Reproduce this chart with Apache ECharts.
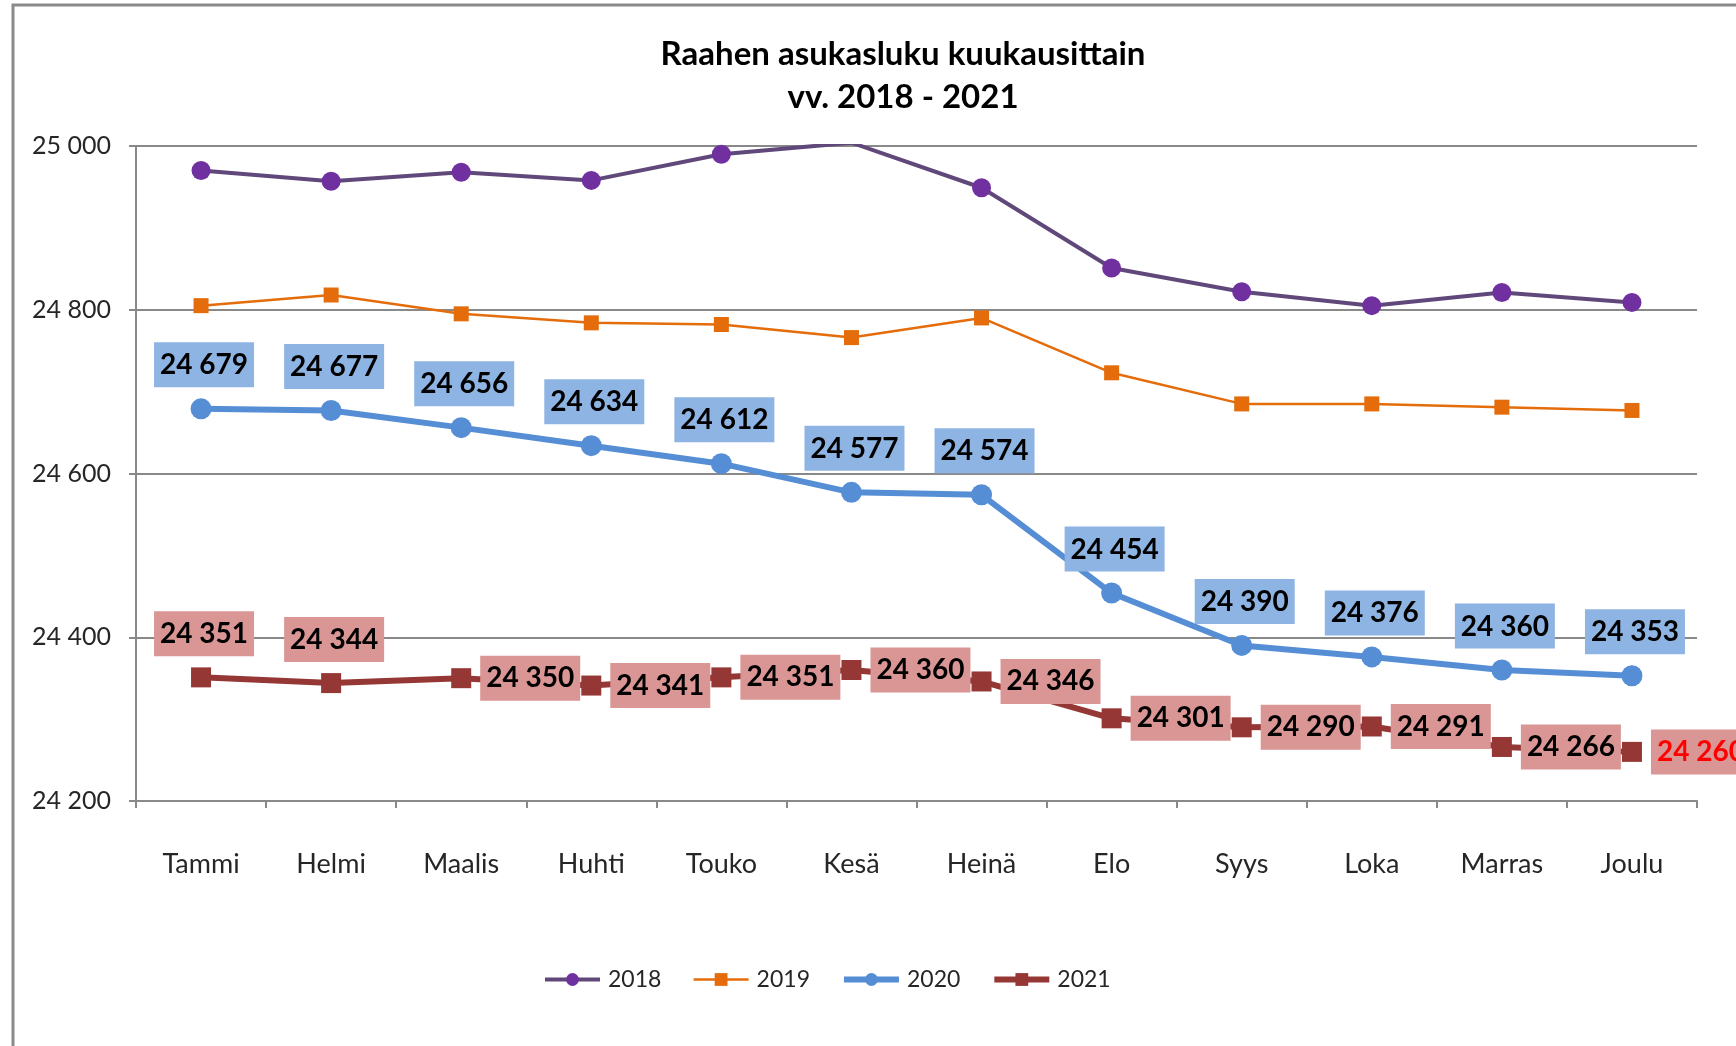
<!DOCTYPE html>
<html><head><meta charset="utf-8">
<script src="https://cdn.jsdelivr.net/npm/echarts@6/dist/echarts.min.js"></script>
<style>html,body{margin:0;padding:0;background:#fff}#c{width:1736px;height:1046px}</style>
</head><body><div id="c"></div>
<script>
const categories = ['Tammi','Helmi','Maalis','Huhti','Touko','Kesä','Heinä','Elo','Syys','Loka','Marras','Joulu'];
const v2018 = [24970,24957,24968,24958,24990,25004,24949,24851,24822,24805,24821,24809];
const v2019 = [24805,24818,24795,24784,24782,24766,24790,24723,24685,24685,24681,24677];
const v2020 = [24679,24677,24656,24634,24612,24577,24574,24454,24390,24376,24360,24353];
const v2021 = [24351,24344,24350,24341,24351,24360,24346,24301,24290,24291,24266,24260];
const seriesNames = ['2018','2019','2020','2021'];
const titleLines = ['Raahen asukasluku kuukausittain','vv. 2018 - 2021'];
const yMin = 24200, yMax = 25000, yStep = 200;

const FONT = 'Lato, "Noto Sans", sans-serif';
const fmt = n => String(n).replace(/\B(?=(\d{3})+(?!\d))/g, ' ');

const chart = echarts.init(document.getElementById('c'), null, {renderer:'canvas'});

const lab2020 = {show:true, position:'top', distance:11, offset:[3,0], formatter:p=>fmt(p.value),
  backgroundColor:'#8EB4E3', padding:[9,6,8,6], color:'#000', fontWeight:'bold', fontSize:28, fontFamily:FONT};
const lab2021 = {show:true, position:'right', distance:9, formatter:p=>fmt(p.value),
  backgroundColor:'#D99694', padding:[9,6,8,6], color:'#000', fontWeight:'bold', fontSize:28, fontFamily:FONT};

const data2021 = v2021.map((v,i)=>{
  const d = {value:v};
  if (i < 2) d.label = {position:'top', distance:11, offset:[3,0]};
  if (i === v2021.length-1) d.label = {color:'#FF0000'};
  return d;
});

const styles = {
  '2018': {sym:'circle', size:19, fill:'#7030A0', line:'#60497A', w:4},
  '2019': {sym:'rect', size:15, fill:'#E46C0A', line:'#E46C0A', w:2.5},
  '2020': {sym:'circle', size:21, fill:'#558ED5', line:'#558ED5', w:6},
  '2021': {sym:'rect', size:20, fill:'#953735', line:'#953735', w:6}
};

const option = {
  animation:false,
  backgroundColor:'#fff',
  graphic:[
    {type:'rect', z:-10, shape:{x:13,y:5,width:1800,height:1100}, style:{fill:'none', stroke:'#8a8a8a', lineWidth:3}},
    {type:'text', x:903, y:54, style:{text:titleLines[0], font:'bold 33px '+FONT, fill:'#000', textAlign:'center', textVerticalAlign:'middle'}},
    {type:'text', x:903, y:97, style:{text:titleLines[1], font:'bold 33px '+FONT, fill:'#000', textAlign:'center', textVerticalAlign:'middle'}}
  ],
  grid:{left:136, right:39, top:146, bottom:245, containLabel:false},
  legend:{
    data:seriesNames.map(n=>({name:n, lineStyle:{width:styles[n].w, color:styles[n].line}})),
    left:538, top:963, itemWidth:55, itemHeight:16, itemGap:31,
    textStyle:{fontSize:23, fontFamily:FONT, color:'#262626', padding:[0,0,0,3]}
  },
  xAxis:{
    type:'category', data:categories, boundaryGap:true,
    axisLine:{lineStyle:{color:'#898989', width:2}},
    axisTick:{show:true, length:7, lineStyle:{color:'#898989', width:2}},
    axisLabel:{margin:50, fontSize:27, color:'#262626', fontFamily:FONT}
  },
  yAxis:{
    type:'value', min:yMin, max:yMax, interval:yStep,
    axisLine:{show:true, lineStyle:{color:'#898989', width:2}},
    axisTick:{show:true, length:7, lineStyle:{color:'#898989', width:2}},
    splitLine:{lineStyle:{color:'#898989', width:2}},
    axisLabel:{margin:25, fontSize:25, color:'#262626', fontFamily:FONT, formatter:v=>fmt(v)}
  },
  series:[
    {name:'2018', type:'line', data:v2018, symbol:styles['2018'].sym, symbolSize:styles['2018'].size, clip:true,
      itemStyle:{color:styles['2018'].fill}, lineStyle:{color:styles['2018'].line, width:styles['2018'].w}},
    {name:'2019', type:'line', data:v2019, symbol:styles['2019'].sym, symbolSize:styles['2019'].size,
      itemStyle:{color:styles['2019'].fill}, lineStyle:{color:styles['2019'].line, width:styles['2019'].w}},
    {name:'2020', type:'line', data:v2020, symbol:styles['2020'].sym, symbolSize:styles['2020'].size,
      itemStyle:{color:styles['2020'].fill}, lineStyle:{color:styles['2020'].line, width:styles['2020'].w}, label:lab2020},
    {name:'2021', type:'line', data:data2021, symbol:styles['2021'].sym, symbolSize:styles['2021'].size,
      itemStyle:{color:styles['2021'].fill}, lineStyle:{color:styles['2021'].line, width:styles['2021'].w}, label:lab2021}
  ]
};
chart.setOption(option);
</script></body></html>
